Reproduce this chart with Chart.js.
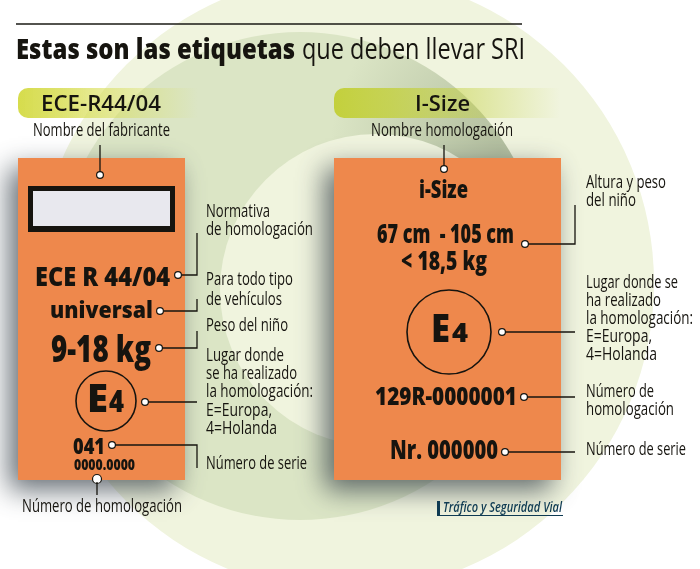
<!DOCTYPE html>
<html lang="es">
<head>
<meta charset="utf-8">
<title>Estas son las etiquetas</title>
<script src="https://cdn.jsdelivr.net/npm/chart.js@4"></script>
<style>
html, body { margin: 0; padding: 0; background: #fff; }
canvas { display: block; }
</style>
</head>
<body>
<canvas id="chart" width="700" height="569"></canvas>
<script>
// textos de la infografia
const titleParts = ['Estas son las etiquetas', 'que deben llevar SRI'];
const headers = ['ECE-R44/04', 'I-Size'];
const credit = 'Tráfico y Seguridad Vial';
const leftCard = ['ECE R 44/04', 'universal', '9-18 kg', 'E', '4', '041', '0000.0000'];
const rightCard = ['i-Size', '67 cm  - 105 cm', '< 18,5 kg', 'E', '4', '129R-0000001', 'Nr. 000000'];
const leftNotes = ['Nombre del fabricante', 'Normativa', 'de homologación', 'Para todo tipo', 'de vehículos',
    'Peso del niño', 'Lugar donde', 'se ha realizado', 'la homologación:', 'E=Europa,', '4=Holanda',
    'Número de serie', 'Número de homologación'];
const rightNotes = ['Nombre homologación', 'Altura y peso', 'del niño', 'Lugar donde se', 'ha realizado',
    'la homologación:', 'E=Europa,', '4=Holanda', 'Número de', 'homologación', 'Número de serie'];

// maquetacion: todo en coordenadas de la imagen, pasa por las escalas del grafico
const FONT = '"Open Sans"';
const NOTE = '500 17.5px ' + FONT;
const leaders = [
    [[100, 145], [100, 172]],
    [[182, 275], [197, 275], [197, 233]],
    [[164, 311], [197, 311], [197, 299]],
    [[162, 348], [197, 348], [197, 331]],
    [[148, 402], [197, 402]],
    [[115, 445], [197, 445], [197, 468]],
    [[97, 482], [97, 495]],
    [[444, 145], [444, 166]],
    [[528, 244], [575, 244], [575, 205]],
    [[505, 332], [575, 332]],
    [[527, 397], [575, 397]],
    [[508, 452], [575, 452]]
];
const dots = [[100, 175], [178, 275], [160, 311], [159, 348], [145, 402], [112, 445], [97, 479],
    [444, 169], [525, 244], [502, 332], [524, 397], [505, 452]];
const outerRing = [345, 283, 309];
const middleRing = [300, 276, 244];
const innerRing = [376, 290, 156];
const cards = [[18, 158, 167, 322], [334, 158, 227, 322]];
const pills = [[18, 88, 180, '#d6dc4c'], [334, 88, 226, '#c3d03c']];
const seals = [[106, 401, 30], [449, 332, 42]];

// [texto, x, linea base, ancho, fuente, color]
const textItems = [
    [titleParts[0], 16, 59, 279, '800 29px ' + FONT],
    [titleParts[1], 302, 59, 223, '400 29px ' + FONT],
    [headers[0], 41, 111, 120, '600 21px ' + FONT],
    [headers[1], 415, 111, 55, '600 21px ' + FONT],
    [leftCard[0], 35, 286, 135, '800 26px ' + FONT],
    [leftCard[1], 50, 318, 103, '800 22px ' + FONT],
    [leftCard[2], 51, 362, 100, '800 37px ' + FONT],
    [leftCard[3], 87, 412, 21, '800 39px ' + FONT],
    [leftCard[4], 109, 412, 15, '800 30px ' + FONT],
    [leftCard[5], 73, 454, 32, '800 22px ' + FONT],
    [leftCard[6], 74, 470, 61, '800 16px ' + FONT],
    [rightCard[0], 419, 198, 49, '800 25px ' + FONT],
    [rightCard[1], 377, 243, 137, '800 27px ' + FONT],
    [rightCard[2], 401, 270, 86, '800 27px ' + FONT],
    [rightCard[3], 431, 342, 19, '800 38px ' + FONT],
    [rightCard[4], 452, 342, 16, '800 26px ' + FONT],
    [rightCard[5], 375, 405, 142, '800 25px ' + FONT],
    [rightCard[6], 390, 459, 108, '800 27px ' + FONT],
    [leftNotes[0], 33, 136, 137, NOTE],
    [leftNotes[1], 206, 217, 64, NOTE],
    [leftNotes[2], 206, 235, 107, NOTE],
    [leftNotes[3], 206, 285, 87, NOTE],
    [leftNotes[4], 206, 305, 76, NOTE],
    [leftNotes[5], 206, 331, 82, NOTE],
    [leftNotes[6], 206, 361, 78, NOTE],
    [leftNotes[7], 206, 379, 91, NOTE],
    [leftNotes[8], 206, 397, 107, NOTE],
    [leftNotes[9], 206, 416, 66, NOTE],
    [leftNotes[10], 206, 434, 71, NOTE],
    [leftNotes[11], 206, 469, 101, NOTE],
    [leftNotes[12], 22, 512, 160, NOTE],
    [rightNotes[0], 371, 136, 142, NOTE],
    [rightNotes[1], 586, 188, 80, NOTE],
    [rightNotes[2], 586, 206, 50, NOTE],
    [rightNotes[3], 586, 288, 92, NOTE],
    [rightNotes[4], 586, 306, 75, NOTE],
    [rightNotes[5], 586, 324, 107, NOTE],
    [rightNotes[6], 586, 342, 66, NOTE],
    [rightNotes[7], 586, 360, 71, NOTE],
    [rightNotes[8], 586, 397, 68, NOTE],
    [rightNotes[9], 586, 415, 88, NOTE],
    [rightNotes[10], 586, 455, 100, NOTE],
    [credit, 443, 512, 119, 'italic 600 15px ' + FONT, '#0e3a52']
];

// fondo, tarjetas y sellos debajo de las lineas
const backdrop = {
    id: 'backdrop',
    beforeDatasetsDraw(chart) {
        const { ctx, scales: { x, y } } = chart;
        const px = v => x.getPixelForValue(v);
        const py = v => y.getPixelForValue(v);
        const disc = ([cx, cy, r]) => {
            ctx.beginPath();
            ctx.arc(px(cx), py(cy), r, 0, Math.PI * 2);
        };

        ctx.save();
        ctx.fillStyle = '#f0f4de';
        disc(outerRing);
        ctx.fill();
        ctx.fillStyle = '#dbe5c5';
        disc(middleRing);
        ctx.fill();

        // sombra arriba a la derecha de la banda media
        ctx.save();
        disc(middleRing);
        ctx.clip();
        const wedge = ctx.createRadialGradient(px(500), py(150), 0, px(500), py(150), 170);
        wedge.addColorStop(0, 'rgba(110, 125, 95, 0.38)');
        wedge.addColorStop(1, 'rgba(110, 125, 95, 0)');
        ctx.fillStyle = wedge;
        ctx.fillRect(px(300), py(20), 240, 200);
        ctx.restore();

        ctx.fillStyle = '#f0f4de';
        disc(innerRing);
        ctx.fill();

        // linea superior
        ctx.strokeStyle = '#1a1a14';
        ctx.lineWidth = 1.5;
        ctx.beginPath();
        ctx.moveTo(px(16), py(24));
        ctx.lineTo(px(522), py(24));
        ctx.stroke();

        // cintas de cabecera con degradado
        pills.forEach(([left, top, w, color]) => {
            const g = ctx.createLinearGradient(px(left), 0, px(left + w), 0);
            g.addColorStop(0, color);
            g.addColorStop(0.25, color + 'cc');
            g.addColorStop(1, color + '00');
            ctx.fillStyle = g;
            ctx.beginPath();
            ctx.roundRect(px(left), py(top), w, 30, [10, 0, 0, 10]);
            ctx.fill();
        });

        // tarjetas naranjas
        cards.forEach(([left, top, w, h]) => {
            ctx.save();
            ctx.shadowColor = 'rgba(50, 60, 70, 0.75)';
            ctx.shadowBlur = 26;
            ctx.shadowOffsetX = -9;
            ctx.shadowOffsetY = 10;
            ctx.fillStyle = '#ee884c';
            ctx.fillRect(px(left), py(top), w, h);
            ctx.restore();
        });

        // recuadro del fabricante
        ctx.fillStyle = '#16140f';
        ctx.fillRect(px(28), py(186), 147, 46);
        ctx.fillStyle = '#e8e8ee';
        ctx.fillRect(px(33), py(191), 137, 35);

        ctx.strokeStyle = '#16140f';
        ctx.lineWidth = 1.6;
        seals.forEach(seal => {
            disc(seal);
            ctx.stroke();
        });

        // firma
        ctx.fillStyle = '#0e3a52';
        ctx.fillRect(px(437), py(501), 3, 14);
        ctx.fillRect(px(437), py(515), 126, 1);
        ctx.restore();
    }
};

// textos encima de todo, ajustados al ancho medido
const labels = {
    id: 'labels',
    afterDatasetsDraw(chart) {
        const { ctx, scales: { x, y } } = chart;
        ctx.save();
        ctx.textBaseline = 'alphabetic';
        ctx.textAlign = 'left';
        textItems.forEach(([text, left, base, w, font, color]) => {
            ctx.font = font;
            ctx.fillStyle = color || '#16140f';
            const sx = w / ctx.measureText(text).width;
            ctx.save();
            ctx.translate(x.getPixelForValue(left), y.getPixelForValue(base));
            ctx.scale(sx, 1);
            ctx.fillText(text, 0, 0);
            ctx.restore();
        });
        ctx.restore();
    }
};

const toPoints = path => path.map(([px, py]) => ({ x: px, y: py }));

new Chart(document.getElementById('chart'), {
    type: 'scatter',
    data: {
        datasets: [
            ...leaders.map((path, i) => ({
                label: 'guia ' + i,
                data: toPoints(path),
                showLine: true,
                borderColor: '#16140f',
                borderWidth: 1.3,
                pointRadius: 0,
                tension: 0
            })),
            {
                label: 'puntos',
                data: toPoints(dots),
                pointRadius: dots.map((d, i) => (i === 6 ? 4.5 : 3.4)),
                pointBackgroundColor: '#ffffff',
                pointBorderColor: '#16140f',
                pointBorderWidth: 1.2
            }
        ]
    },
    options: {
        responsive: false,
        animation: false,
        layout: { padding: 0, autoPadding: false },
        plugins: { legend: { display: false }, tooltip: { enabled: false } },
        scales: {
            x: { type: 'linear', min: 0, max: 700, display: false },
            y: { type: 'linear', min: 0, max: 569, reverse: true, display: false }
        }
    },
    plugins: [backdrop, labels]
});
</script>
</body>
</html>
